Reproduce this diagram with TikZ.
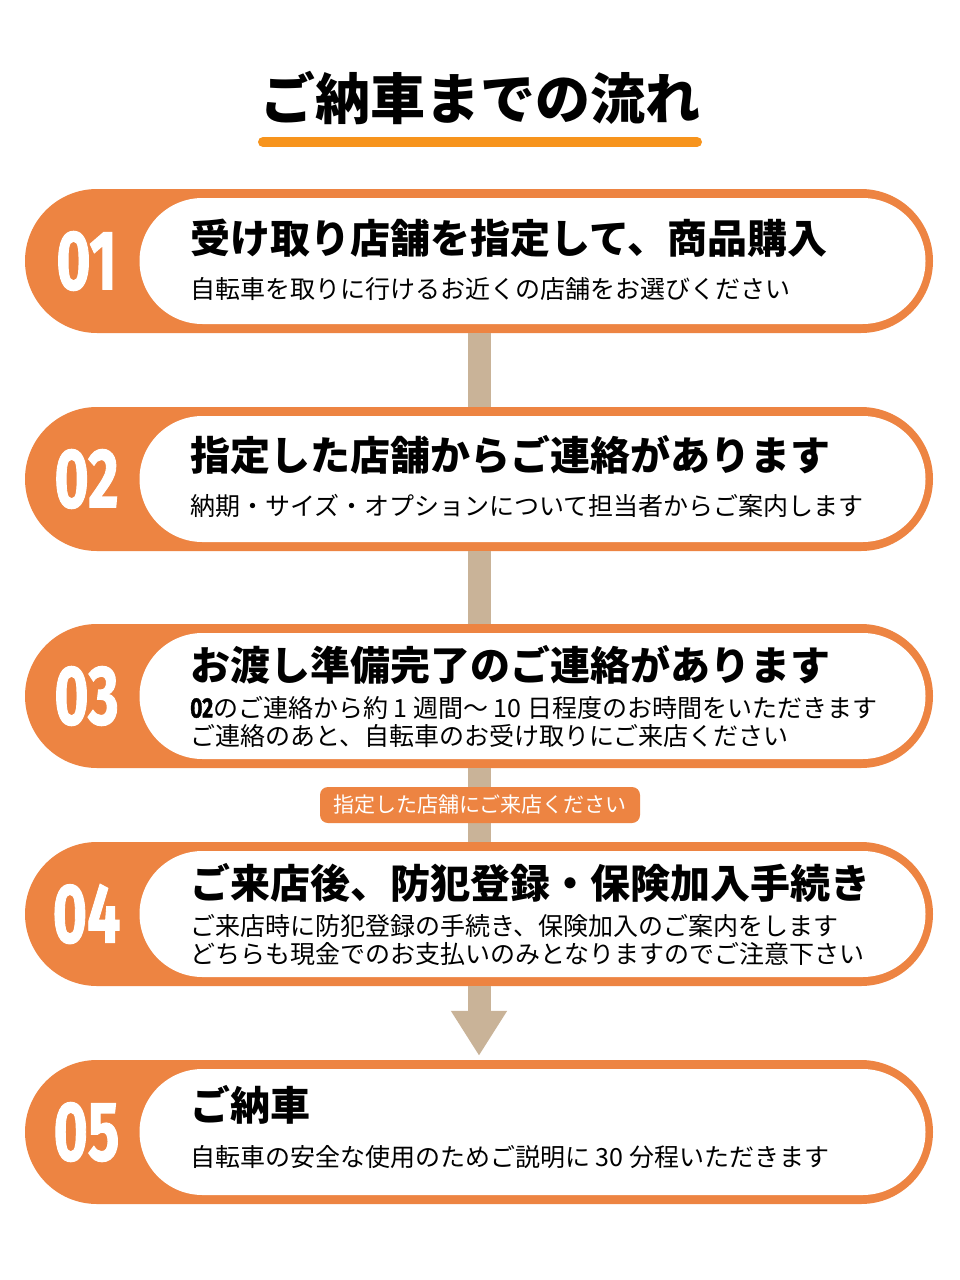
\documentclass[tikz,border=0pt]{standalone}
\usepackage{fontspec}
\usepackage{graphicx}
\usepackage{xcolor}
\setmainfont{Noto Sans CJK JP}
\newfontfamily\numfont{Fira Sans}[BoldFeatures={FakeBold=1.5}]
\usetikzlibrary{arrows.meta}

\definecolor{steporange}{RGB}{237,132,66}
\definecolor{lineorange}{RGB}{247,148,29}
\definecolor{flowtan}{RGB}{201,179,152}

\begin{document}
\begin{tikzpicture}[x=1pt, y=-1pt,
    every node/.style={inner sep=0pt},
    outerbox/.style={fill=steporange, rounded corners=72pt, minimum width=908pt, minimum height=144pt},
    innerbox/.style={fill=white, rounded corners=63pt, minimum width=786pt, minimum height=126pt},
    stepnum/.style={text=white, font=\numfont\bfseries\fontsize{84}{84}\selectfont},
    head/.style={anchor=west, font=\bfseries\fontsize{40}{44}\selectfont},
    sub/.style={anchor=west, align=left, font=\fontsize{25}{28}\selectfont},
    note/.style={fill=steporange, rounded corners=8pt, minimum width=320pt, minimum height=36pt, text=white, font=\fontsize{21}{24}\selectfont},
    bar/.style={draw=flowtan, line width=23pt},
]
\fill[white] (0,0) rectangle (960,1280);
\useasboundingbox (0,0) rectangle (960,1280);

% Title
\node[font=\bfseries\fontsize{55}{60}\selectfont] (title) at (480,98) {ご納車までの流れ};
\draw[lineorange, line width=10pt, line cap=round] (263,142) -- (697,142);

% Step 1
\node[outerbox] (s1) at (479,261) {};
\node[innerbox] (in1) at (532.5,261) {};
\node[stepnum] (n1) at (86.5,261) {\scalebox{0.7}[1]{01}};
\node[head] (h1) at (190,238) {受け取り店舗を指定して、商品購入};
\node[sub] (t1) at (190,289) {自転車を取りに行けるお近くの店舗をお選びください};

% Step 2
\node[outerbox] (s2) at (479,479) {};
\node[innerbox] (in2) at (532.5,479) {};
\node[stepnum] (n2) at (86.5,479) {\scalebox{0.7}[1]{02}};
\node[head] (h2) at (190,455) {指定した店舗からご連絡があります};
\node[sub] (t2) at (190,506) {納期・サイズ・オプションについて担当者からご案内します};

% Step 3
\node[outerbox] (s3) at (479,696) {};
\node[innerbox] (in3) at (532.5,696) {};
\node[stepnum] (n3) at (86.5,696) {\scalebox{0.7}[1]{03}};
\node[head] (h3) at (190,665) {お渡し準備完了のご連絡があります};
\node[sub] (t3) at (190,722) {{\numfont\bfseries\fontsize{28}{28}\selectfont\scalebox{0.75}[1]{02}}のご連絡から約 1 週間〜 10 日程度のお時間をいただきます\\ご連絡のあと、自転車のお受け取りにご来店ください};

% Step 4
\node[outerbox] (s4) at (479,914) {};
\node[innerbox] (in4) at (532.5,914) {};
\node[stepnum] (n4) at (86.5,914) {\scalebox{0.7}[1]{04}};
\node[head] (h4) at (190,883) {ご来店後、防犯登録・保険加入手続き};
\node[sub] (t4) at (190,940) {ご来店時に防犯登録の手続き、保険加入のご案内をします\\どちらも現金でのお支払いのみとなりますのでご注意下さい};

% Step 5
\node[outerbox] (s5) at (479,1132) {};
\node[innerbox] (in5) at (532.5,1132) {};
\node[stepnum] (n5) at (86.5,1132) {\scalebox{0.7}[1]{05}};
\node[head] (h5) at (190,1105) {ご納車};
\node[sub] (t5) at (190,1157) {自転車の安全な使用のためご説明に 30 分程いただきます};

% Connectors
\draw[bar] (s1.south) -- (s2.north);
\draw[bar] (s2.south) -- (s3.north);
\draw[bar] (s3.south) -- (s4.north);
\node[note] (visit) at (480,805) {指定した店舗にご来店ください};
\draw[bar, -{Triangle[width=53pt,length=45pt]}, shorten >=4pt] (s4.south) -- (s5.north);

\end{tikzpicture}
\end{document}
